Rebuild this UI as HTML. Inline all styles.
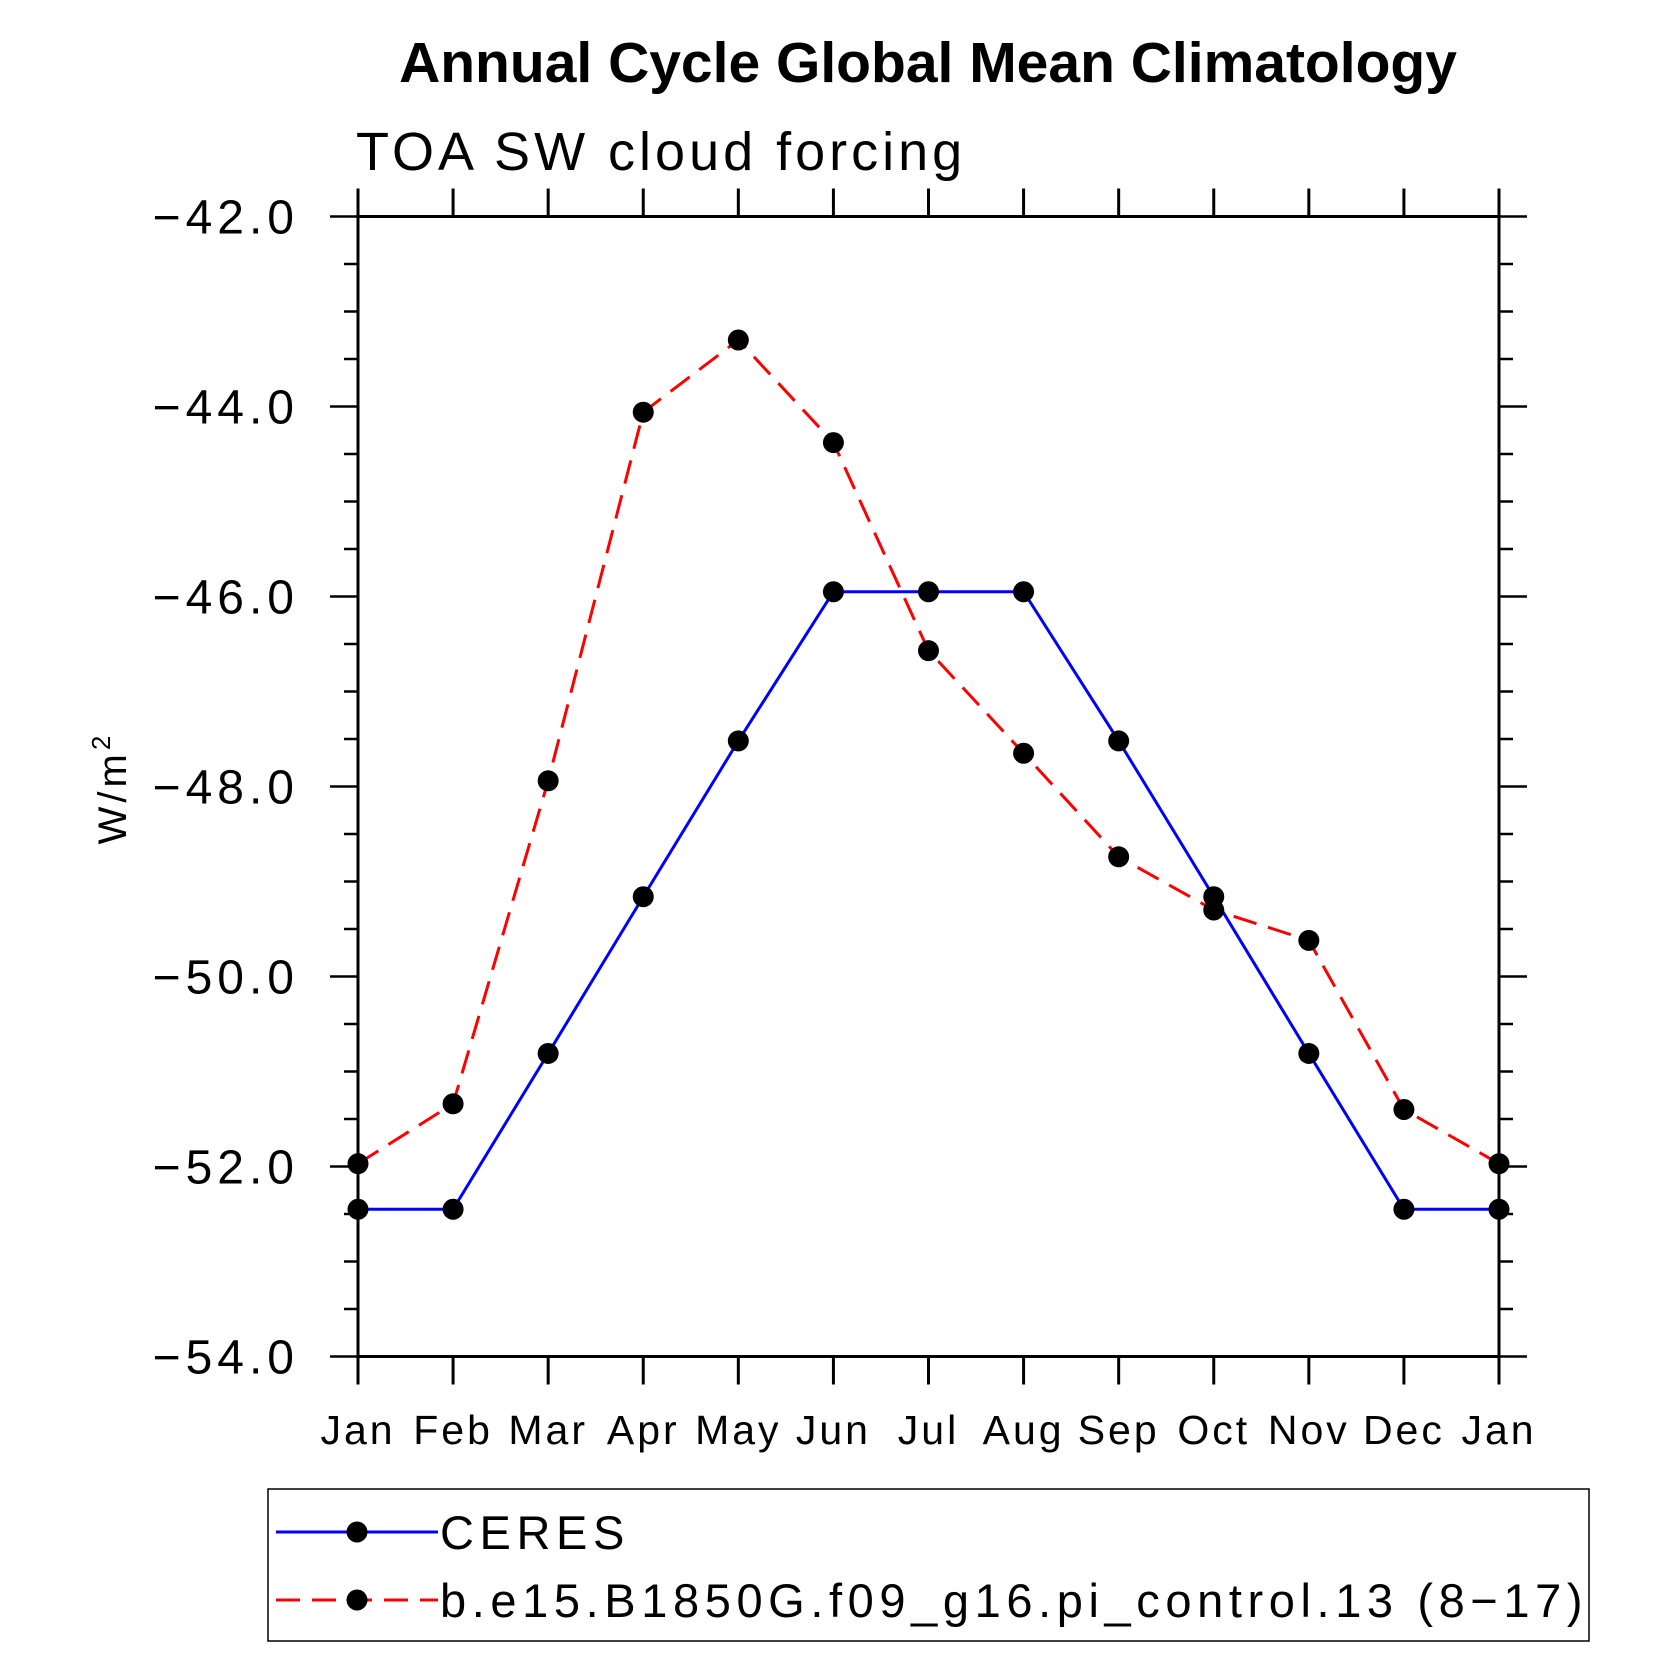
<!DOCTYPE html>
<html><head><meta charset="utf-8"><style>
html,body{margin:0;padding:0;background:#fff;}
svg{display:block;}
text{font-family:"Liberation Sans",sans-serif;}
</style></head><body>
<svg id="chart" width="1680" height="1680" viewBox="0 0 1680 1680" xmlns="http://www.w3.org/2000/svg">
<text x="928" y="82" text-anchor="middle" font-size="57" font-weight="bold">Annual Cycle Global Mean Climatology</text>
<text x="356" y="170" font-size="54" letter-spacing="4" font-weight="300">TOA SW cloud forcing</text>
<text transform="translate(126,788) rotate(-90)" text-anchor="middle" font-size="40" letter-spacing="4">W/m<tspan font-size="26" dy="-16">2</tspan></text>
<g id="axes"></g>
<g id="series"></g>
<g id="legend"></g>
</svg>
<script>
const months = ["Jan","Feb","Mar","Apr","May","Jun","Jul","Aug","Sep","Oct","Nov","Dec","Jan"];
const ceresValues = [-52.45,-52.45,-50.81,-49.16,-47.52,-45.95,-45.95,-45.95,-47.52,-49.16,-50.81,-52.45,-52.45];
const modelValues = [-51.97,-51.34,-47.94,-44.06,-43.30,-44.38,-46.57,-47.65,-48.74,-49.30,-49.62,-51.40,-51.97];
const yTicks = [-42,-44,-46,-48,-50,-52,-54];
const yTickLabels = ["\u221242.0","\u221244.0","\u221246.0","\u221248.0","\u221250.0","\u221252.0","\u221254.0"];
const seriesNames = ["CERES","b.e15.B1850G.f09_g16.pi_control.13 (8\u221217)"];

const NS="http://www.w3.org/2000/svg";
const L=358,R=1499,T=216.5,B=1356.5,yMin=-54,yMax=-42;
const xS=i=>L+(R-L)*i/(months.length-1);
const yS=v=>B-(v-yMin)/(yMax-yMin)*(B-T);
function mk(tag,attrs,parent){const e=document.createElementNS(NS,tag);for(const k in attrs)e.setAttribute(k,attrs[k]);parent.appendChild(e);return e;}
const axes=document.getElementById('axes');
const frame=mk('rect',{x:L,y:T,width:R-L,height:B-T,fill:'none',stroke:'#000','stroke-width':3},axes);


months.forEach((m,i)=>{
  const x=xS(i);
  const t1=mk('line',{x1:x,x2:x,y1:B,y2:B+28,stroke:'#000','stroke-width':3},axes);
  
  
  const t2=mk('line',{x1:x,x2:x,y1:T,y2:T-28,stroke:'#000','stroke-width':3},axes);
  
  
  const lb=mk('text',{x:x,y:1444,'text-anchor':'middle','font-size':41,'letter-spacing':3},axes);
  lb.textContent=m;
  
  
});
for(let k=0;k<=24;k++){
  const v=yMin+k*0.5;
  const y=yS(v);const major=k%4===0;
  const len=major?28:14;
  const a=mk('line',{x1:L,x2:L-len,y1:y,y2:y,stroke:'#000','stroke-width':2.5},axes);
  
  
  const b=mk('line',{x1:R,x2:R+len,y1:y,y2:y,stroke:'#000','stroke-width':2.5},axes);
  
  
}
yTicks.forEach((v,i)=>{
  const t=mk('text',{x:299,y:yS(v)+17,'text-anchor':'end','font-size':48,'letter-spacing':5},axes);
  t.textContent=yTickLabels[i];
  
  
});
const ser=document.getElementById('series');
function drawSeries(vals,color,dash,name){
  const pts=vals.map((v,i)=>xS(i)+','+yS(v)).join(' ');
  const pl=mk('polyline',{points:pts,fill:'none',stroke:color,'stroke-width':3,'stroke-dasharray':dash},ser);
  
  
  vals.forEach((v,i)=>{
    const c=mk('circle',{cx:xS(i),cy:yS(v),r:10.5,fill:'#000'},ser);
    
    
  });
}
drawSeries(ceresValues,'#0000ff','none','ceres');
drawSeries(modelValues,'#ff0000','24,12','model');
const lg=document.getElementById('legend');
const box=mk('rect',{x:268,y:1489,width:1321,height:152,fill:'none',stroke:'#000','stroke-width':1.5},lg);


[['#0000ff','none',1532],['#ff0000','24,12',1600]].forEach((s,i)=>{
  const ln=mk('line',{x1:276,x2:438,y1:s[2],y2:s[2],stroke:s[0],'stroke-width':3,'stroke-dasharray':s[1]},lg);
  
  
  const c=mk('circle',{cx:357,cy:s[2],r:10.5,fill:'#000'},lg);
  
  
  const t=mk('text',{x:440,y:s[2]+17,'font-size':47,'letter-spacing':5.6},lg);
  t.textContent=seriesNames[i];
  
  
});
</script>
</body></html>
